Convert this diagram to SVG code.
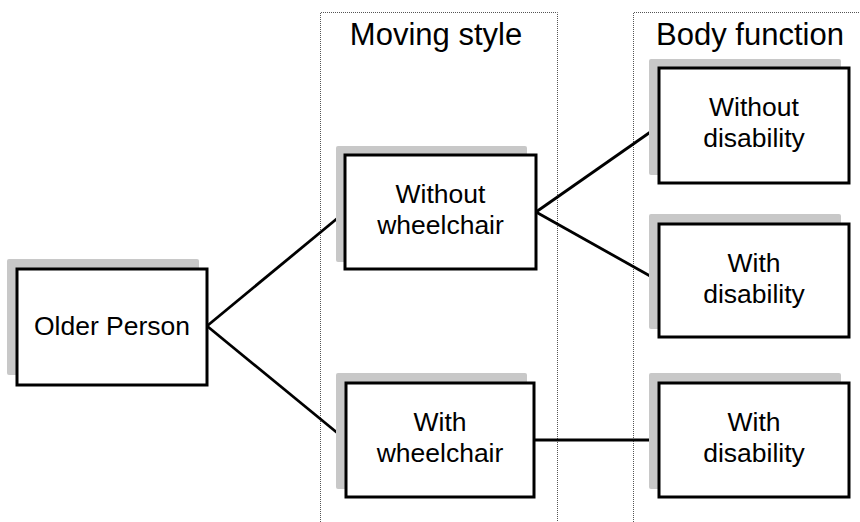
<svg xmlns="http://www.w3.org/2000/svg" width="860" height="522" viewBox="0 0 860 522">
<style>
.lane{fill:none;stroke:#555;stroke-width:1;stroke-dasharray:1,1}
.hdr{font-family:"Liberation Sans",Arial,sans-serif;font-size:31px;fill:#000;text-anchor:middle}
.sh{fill:#c8c8c8}
.bx{fill:#fff;stroke:#000;stroke-width:3}
.t{font-family:"Liberation Sans",Arial,sans-serif;font-size:26.5px;fill:#000;text-anchor:middle}
.cn{stroke:#000;stroke-width:2.8;fill:none}
</style>
<rect width="860" height="522" fill="#fff"/>
<g id="lanes">
<path class="lane" d="M320.5,530 V12.5 H557.5 V530"/>
<path class="lane" d="M633.5,530 V12.5 H870"/>
<text class="hdr" x="436" y="45">Moving style</text>
<text class="hdr" x="750" y="45">Body function</text>
</g>
<g id="connectors">
<line class="cn" x1="207" y1="326" x2="345" y2="212"/>
<line class="cn" x1="207" y1="326" x2="346" y2="440"/>
<line class="cn" x1="536" y1="212" x2="659" y2="126"/>
<line class="cn" x1="536" y1="212" x2="659" y2="281"/>
<line class="cn" x1="534" y1="440" x2="659" y2="440"/>
</g>
<g id="older">
<rect class="sh" x="7" y="259" width="192" height="116" rx="2"/>
<rect class="bx" x="17" y="269" width="190" height="116"/>
<text class="t" x="112" y="335">Older Person</text>
</g>
<g id="without-wheelchair">
<rect class="sh" x="336" y="146" width="191" height="116" rx="2"/>
<rect class="bx" x="345" y="155" width="191" height="114"/>
<text class="t" x="440.5" y="203">Without</text>
<text class="t" x="440.5" y="234">wheelchair</text>
</g>
<g id="with-wheelchair">
<rect class="sh" x="336" y="373" width="191" height="116" rx="2"/>
<rect class="bx" x="346" y="383" width="188" height="114"/>
<text class="t" x="440" y="431">With</text>
<text class="t" x="440" y="462">wheelchair</text>
</g>
<g id="without-disability">
<rect class="sh" x="649" y="59" width="192" height="116" rx="2"/>
<rect class="bx" x="659" y="68" width="190" height="115"/>
<text class="t" x="754" y="116">Without</text>
<text class="t" x="754" y="147">disability</text>
</g>
<g id="with-disability-1">
<rect class="sh" x="649" y="214" width="192" height="115" rx="2"/>
<rect class="bx" x="659" y="224" width="190" height="113"/>
<text class="t" x="754" y="272">With</text>
<text class="t" x="754" y="303">disability</text>
</g>
<g id="with-disability-2">
<rect class="sh" x="649" y="373" width="192" height="116" rx="2"/>
<rect class="bx" x="659" y="383" width="190" height="114"/>
<text class="t" x="754" y="431">With</text>
<text class="t" x="754" y="462">disability</text>
</g>
</svg>
